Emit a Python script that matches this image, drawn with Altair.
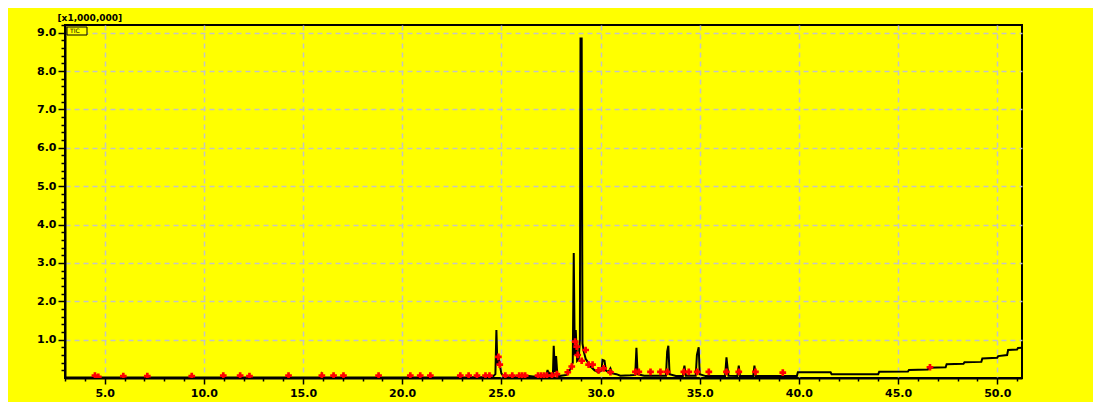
import altair as alt
import pandas as pd

# Chromatogram trace (retention time in min, intensity in x1,000,000)
TIME = [
    3.0, 10.9, 10.98, 11.05, 15.9, 15.95, 16.0, 16.5, 16.54, 16.6,
    20.35, 20.41, 20.47, 23.3, 23.35, 23.4,
    24.0, 24.3, 24.6, 24.7, 24.75, 24.8, 24.86, 24.92, 25.0, 25.1, 25.3,
    26.0, 26.4, 26.6,
    27.25, 27.33, 27.4, 27.45, 27.55, 27.6, 27.64, 27.7, 27.76, 27.82, 27.9,
    28.3, 28.5, 28.6, 28.65, 28.7, 28.75, 28.82, 28.9, 28.96, 28.99, 29.05,
    29.09, 29.15, 29.25, 29.35, 29.5, 29.7, 29.9, 30.05, 30.1, 30.2, 30.27, 30.4,
    30.5, 30.6, 30.8, 31.0,
    31.5, 31.75, 31.81, 31.87, 32.2,
    33.3, 33.36, 33.42, 33.48, 33.8,
    34.15, 34.23, 34.3,
    34.8, 34.86, 34.95, 35.0, 35.3,
    36.28, 36.35, 36.4, 36.45,
    36.9, 36.97, 37.03,
    37.7, 37.76, 37.82,
    39.9, 39.95, 41.6, 41.65, 44.0, 44.05, 45.5, 45.55, 46.5, 46.55,
    47.4, 47.45, 48.3, 48.35, 49.2, 49.25, 50.0, 50.05, 50.5, 50.55,
    51.0, 51.05, 51.25,
]
SIGNAL = [
    0.01, 0.01, 0.08, 0.01, 0.01, 0.09, 0.01, 0.01, 0.07, 0.01,
    0.01, 0.07, 0.01, 0.01, 0.05, 0.02,
    0.02, 0.03, 0.05, 0.10, 1.25, 0.35, 0.55, 0.35, 0.12, 0.05, 0.03,
    0.03, 0.05, 0.04,
    0.04, 0.21, 0.04, 0.12, 0.05, 0.10, 0.84, 0.15, 0.57, 0.10, 0.05,
    0.08, 0.25, 0.40, 3.26, 0.60, 1.25, 0.45, 0.50, 1.00, 8.85, 8.85,
    0.90, 0.70, 0.50, 0.42, 0.30, 0.20, 0.15, 0.20, 0.47, 0.45, 0.20, 0.15,
    0.25, 0.12, 0.10, 0.06,
    0.07, 0.08, 0.79, 0.10, 0.06,
    0.06, 0.69, 0.84, 0.10, 0.05,
    0.05, 0.32, 0.06,
    0.06, 0.60, 0.80, 0.10, 0.05,
    0.05, 0.54, 0.29, 0.06,
    0.05, 0.32, 0.05,
    0.05, 0.32, 0.05,
    0.05, 0.15, 0.15, 0.10, 0.10, 0.16, 0.17, 0.21, 0.22, 0.27,
    0.28, 0.36, 0.37, 0.41, 0.42, 0.51, 0.53, 0.57, 0.60, 0.73,
    0.74, 0.78, 0.79,
]

# Peak detection markers
MARK_TIME = [
    4.51, 4.68, 5.94, 7.15, 9.39, 10.98, 11.83, 12.3, 14.27, 15.95,
    16.54, 17.04, 18.81, 20.41, 20.91, 21.42, 22.93, 23.35, 23.77, 24.2,
    24.4, 24.85, 24.92, 25.2, 25.55, 25.9, 26.05, 26.2, 26.85, 27.0,
    27.15, 27.3, 27.55, 27.8, 28.35, 28.55, 28.72, 28.8, 28.85, 29.05,
    29.25, 29.4, 29.6, 29.9, 30.16, 30.5, 31.76, 31.93, 32.52, 33.02,
    33.36, 34.2, 34.45, 34.87, 35.46, 36.35, 36.97, 37.81, 39.19, 46.61,
]
MARK_Y = [
    0.06, 0.03, 0.05, 0.05, 0.05, 0.06, 0.06, 0.05, 0.06, 0.06,
    0.06, 0.06, 0.06, 0.06, 0.06, 0.06, 0.06, 0.06, 0.06, 0.06,
    0.06, 0.55, 0.35, 0.06, 0.06, 0.06, 0.06, 0.06, 0.06, 0.06,
    0.06, 0.06, 0.06, 0.10, 0.15, 0.30, 0.95, 0.82, 0.60, 0.45,
    0.73, 0.35, 0.35, 0.20, 0.25, 0.15, 0.16, 0.16, 0.16, 0.16,
    0.16, 0.16, 0.16, 0.16, 0.16, 0.16, 0.16, 0.16, 0.14, 0.28,
]

X_TICKS = list(range(3, 52))
Y_TICKS = [0.2, 0.4, 0.6, 0.8, 1.0, 1.2, 1.4, 1.6, 1.8, 2.0, 2.2, 2.4, 2.6, 2.8,
           3.0, 3.2, 3.4, 3.6, 3.8, 4.0, 4.2, 4.4, 4.6, 4.8, 5.0, 5.2, 5.4, 5.6,
           5.8, 6.0, 6.2, 6.4, 6.6, 6.8, 7.0, 7.2, 7.4, 7.6, 7.8, 8.0, 8.2, 8.4,
           8.6, 8.8, 9.0, 9.2]

trace = pd.DataFrame({"t": TIME, "v": SIGNAL})
marks = pd.DataFrame({"t": MARK_TIME, "v": MARK_Y})

x_major = "datum.value % 5 === 0"
y_major = "abs(datum.value - round(datum.value)) < 0.001"

x_scale = alt.Scale(domain=[3.0, 51.25], nice=False, zero=False)
y_scale = alt.Scale(domain=[0, 9.2], nice=False)

x_axis = alt.Axis(
    values=X_TICKS, tickCount=500,
    labelExpr=f"{x_major} ? format(datum.value, '.1f') : ''",
    labelOverlap=False, labelFlush=False,
    labelFont="DejaVu Sans", labelFontWeight="bold", labelFontSize=11,
    labelColor="black", labelPadding=3,
    tickColor="black", tickWidth=1.5,
    tickSize={"condition": {"test": x_major, "value": 6}, "value": 3},
    grid=True, gridColor="#c4c4c4", gridDash=[5, 4], gridWidth=1.5,
    gridOpacity={"condition": {"test": x_major, "value": 1}, "value": 0},
    domainColor="black", domainWidth=2, title=None,
)
y_axis = alt.Axis(
    values=Y_TICKS, tickCount=500,
    labelExpr=f"{y_major} ? format(datum.value, '.1f') : ''",
    labelOverlap=False, labelFlush=False,
    labelFont="DejaVu Sans", labelFontWeight="bold", labelFontSize=11,
    labelColor="black", labelPadding=2,
    tickColor="black", tickWidth=1.5,
    tickSize={"condition": {"test": y_major, "value": 7}, "value": 4},
    grid=True, gridColor="#c4c4c4", gridDash=[5, 4], gridWidth=1.5,
    gridOpacity={"condition": {"test": y_major, "value": 1}, "value": 0},
    domainColor="black", domainWidth=2,
    title="[x1,000,000]", titleAngle=0, titleAlign="left", titleBaseline="bottom",
    titleX=-8, titleY=-3, titleFont="DejaVu Sans", titleFontSize=9,
    titleFontWeight="bold", titleColor="black",
)

line = alt.Chart(trace).mark_line(color="black", strokeWidth=2, clip=True).encode(
    x=alt.X("t:Q", scale=x_scale, axis=x_axis),
    y=alt.Y("v:Q", scale=y_scale, axis=y_axis),
    order="t:Q",
)

pts = alt.Chart(marks).mark_point(shape="cross", filled=True, color="#ff0000",
                                   size=45, opacity=1, clip=True).encode(
    x=alt.X("t:Q", scale=x_scale),
    y=alt.Y("v:Q", scale=y_scale),
)

lab_df = pd.DataFrame({"s": ["TIC"]})
box = alt.Chart(lab_df).mark_rect(fill="#ffff00", stroke="black", strokeWidth=1).encode(
    x=alt.value(2), x2=alt.value(22), y=alt.value(2), y2=alt.value(10)
)
lab = alt.Chart(lab_df).mark_text(align="left", baseline="middle", fontSize=6,
                                  font="DejaVu Sans", color="black").encode(
    text="s:N", x=alt.value(5), y=alt.value(6)
)

chart = alt.layer(line, pts, box, lab).properties(
    width=957, height=353,
    autosize=alt.AutoSizeParams(type="none"),
    padding={"left": 57, "top": 17, "right": 71, "bottom": 24},
    background="#ffff00",
).configure_view(stroke="black", strokeWidth=2)

chart.save("out.html", embed_options={"renderer": "svg", "actions": False})
